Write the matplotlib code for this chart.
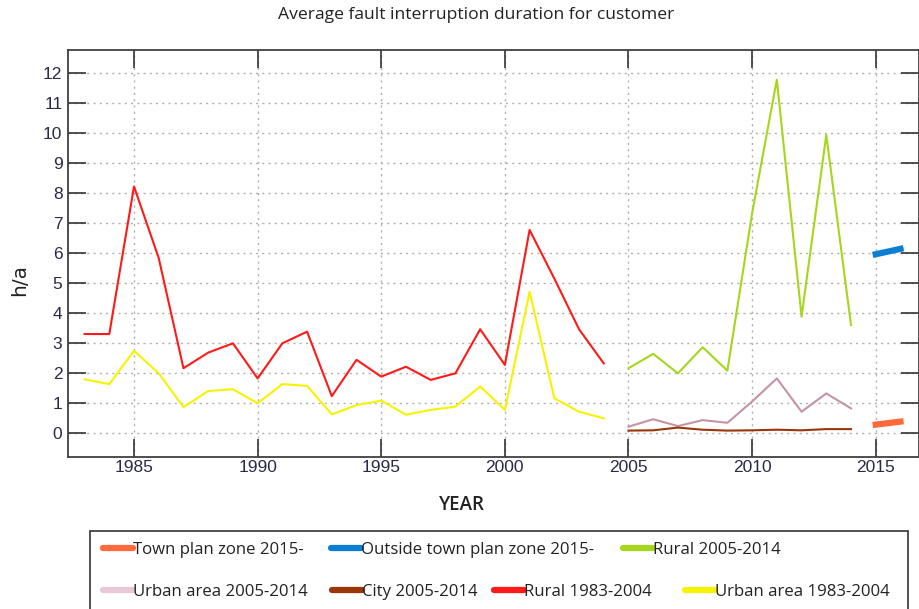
import matplotlib
matplotlib.use("Agg")
import matplotlib.pyplot as plt
from matplotlib.lines import Line2D
from matplotlib.patches import Rectangle
import numpy as np

plt.rcParams['font.family'] = ['DejaVu Sans']

years_old = list(range(1983, 2005))
rural_old = [3.30, 3.30, 8.22, 5.83, 2.16, 2.68, 2.99, 1.82, 2.99, 3.38, 1.23,
             2.44, 1.88, 2.21, 1.77, 1.99, 3.46, 2.27, 6.77, 5.15, 3.46, 2.32]
urban_old = [1.79, 1.63, 2.74, 1.99, 0.86, 1.40, 1.46, 0.99, 1.63, 1.57, 0.62,
             0.93, 1.08, 0.61, 0.77, 0.88, 1.55, 0.77, 4.71, 1.16, 0.71, 0.49]

years_mid = list(range(2005, 2015))
rural_mid = [2.16, 2.64, 1.99, 2.86, 2.08, 7.33, 11.78, 3.88, 9.94, 3.60]
urban_mid = [0.21, 0.46, 0.23, 0.43, 0.34, 1.05, 1.82, 0.71, 1.32, 0.82]
city_mid = [0.08, 0.09, 0.18, 0.11, 0.08, 0.09, 0.11, 0.09, 0.13, 0.13]

years_new = [2015, 2016]
town_new = [0.28, 0.38]
outside_new = [5.96, 6.14]

c_town = '#ff6a3d'
c_outside = '#0a7fd4'
c_rural_mid = '#a6d61c'
c_urban_mid = '#c493a6'
c_urban_mid_leg = '#e6c8d6'
c_city = '#9a3608'
c_rural_old = '#ff1a1a'
c_urban_old = '#f7f300'

fig = plt.figure(figsize=(9.2, 6.09), dpi=100)
ax = fig.add_axes([68/920, 152/609, 851/920, 407/609])

ax.plot(years_old, rural_old, color=c_rural_old, lw=1.5)
ax.plot(years_old, urban_old, color=c_urban_old, lw=1.5)
ax.plot(years_mid, rural_mid, color=c_rural_mid, lw=1.5)
ax.plot(years_mid, urban_mid, color=c_urban_mid, lw=1.5)
ax.plot(years_mid, city_mid, color=c_city, lw=1.5)
ax.plot(years_new, town_new, color=c_town, lw=4.5)
ax.plot(years_new, outside_new, color=c_outside, lw=4.5)

ax.set_xlim(1982.33, 2016.75)
ax.set_ylim(-0.8, 12.77)
ax.set_xticks(np.arange(1985, 2016, 5))
ax.set_yticks(np.arange(0, 13, 1))
ax.grid(True, linestyle=(0, (1.5, 3)), color='#b0b0b0', lw=1)

ax.tick_params(axis='both', direction='in', length=13, width=1.2,
               color='#333333', labelcolor='#2a2a48', labelsize=12.5,
               top=True, right=True)
ax.tick_params(axis='x', pad=2)
ax.tick_params(axis='y', pad=4)
for lb in ax.get_xticklabels() + ax.get_yticklabels():
    lb.set_family('Liberation Sans')
for s in ax.spines.values():
    s.set_color('#404040')
    s.set_linewidth(1.3)

fig.text(476/920, 1 - 15/609, 'Average fault interruption duration for customer',
         fontsize=12.6, family='Open Sans', ha='center', va='center',
         color='#222222')
fig.text(462/920, 1 - 505/609, 'YEAR', fontsize=13.5, family='Open Sans',
         weight='semibold', ha='center', va='center', color='#222222')
fig.text(20/920, 1 - 280/609, 'h/a', fontsize=14.5, ha='center', va='center',
         rotation=90, color='#222222')

# legend frame
fig.patches.append(Rectangle((90/920, -0.05), 818/920, 0.05 + (609-531)/609,
                             transform=fig.transFigure, fill=False,
                             edgecolor='#333333', lw=1.2, clip_on=False))

leg_colors = [c_town, c_outside, c_rural_mid,
              c_urban_mid_leg, c_city, c_rural_old, c_urban_old]
leg_labels = ['Town plan zone 2015-', 'Outside town plan zone 2015-',
              'Rural 2005-2014', 'Urban area 2005-2014', 'City 2005-2014',
              'Rural 1983-2004', 'Urban area 1983-2004']
leg_x = [103, 331, 623, 103, 332, 494, 685]
leg_y = [550, 550, 550, 592, 592, 592, 592]

for c, t, x, y in zip(leg_colors, leg_labels, leg_x, leg_y):
    h = Line2D([], [], color=c, lw=4.5, solid_capstyle='round')
    lg = fig.legend([h], [t], loc='center left',
                    bbox_to_anchor=(x/920, 1 - y/609), frameon=False,
                    handlelength=1.8, handletextpad=0.0,
                    prop={'family': 'Open Sans', 'size': 12.1},
                    borderaxespad=0, borderpad=0)
    for tx in lg.get_texts():
        tx.set_color('#222222')

fig.savefig('out.png', dpi=100)
